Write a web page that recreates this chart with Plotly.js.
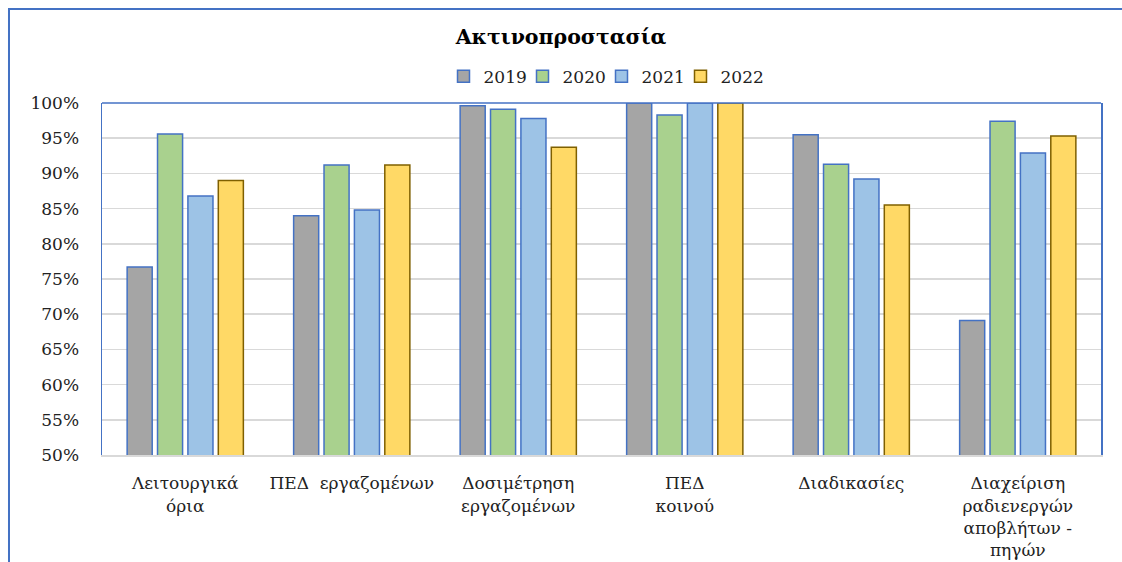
<!DOCTYPE html>
<html>
<head>
<meta charset="utf-8">
<script src="https://cdn.plot.ly/plotly-3.0.1.min.js"></script>
<style>
html,body{margin:0;padding:0;background:#fff;}
#chart{width:1122px;height:562px;}
#chart .legend .scrollbox, #chart .legend [clip-path]{clip-path:none !important;}
</style>
</head>
<body>
<div id="chart"></div>
<script>
const categories = [
  "Λειτουργικά<br>όρια",
  "ΠΕΔ\u00a0\u00a0εργαζομένων",
  "Δοσιμέτρηση<br>εργαζομένων",
  "ΠΕΔ<br>κοινού",
  "Διαδικασίες",
  "Διαχείριση<br>ραδιενεργών<br>αποβλήτων -<br>πηγών"
];
const seriesNames = ["2019", "2020", "2021", "2022"];
const v2019 = [0.767, 0.840, 0.996, 1.000, 0.955, 0.691];
const v2020 = [0.956, 0.912, 0.991, 0.983, 0.913, 0.974];
const v2021 = [0.868, 0.848, 0.978, 1.000, 0.892, 0.929];
const v2022 = [0.890, 0.912, 0.937, 1.000, 0.855, 0.953];
const yTickVals = [0.5,0.55,0.6,0.65,0.7,0.75,0.8,0.85,0.9,0.95,1.0];
const yTickText = ["50%","55%","60%","65%","70%","75%","80%","85%","90%","95%","100%"];

const fills = ["#A5A5A5", "#A9D18E", "#9DC3E6", "#FFD966"];
const outlines = ["#4472C4", "#4472C4", "#4472C4", "#7F6000"];
const values = [v2019, v2020, v2021, v2022];

const serif = "DejaVu Serif, Liberation Serif, serif";
const traces = values.map((v, i) => ({
  type: "bar",
  name: seriesNames[i],
  x: categories,
  y: v,
  marker: {color: fills[i], line: {color: outlines[i], width: 1.5}},
  hoverinfo: "x+y"
}));

const layout = {
  width: 1122, height: 562,
  margin: {l: 102, r: 21, t: 103, b: 107},
  paper_bgcolor: "#fff", plot_bgcolor: "#fff",
  barmode: "group", bargap: 0.27, bargroupgap: 0.175,
  title: {text: "<b>Ακτινοπροστασία</b>", font: {family: serif, size: 20.5, color: "#000"},
          x: 0.5, xanchor: "center", y: 0.935, yanchor: "middle"},
  showlegend: true,
  legend: {orientation: "h", x: 0.5, xanchor: "center", y: 1.075, yanchor: "middle",
           font: {family: serif, size: 17, color: "#222"}, itemwidth: 30, tracegroupgap: 0,
           entrywidth: 34, entrywidthmode: "pixels"},
  xaxis: {type: "category", showgrid: false, showline: true, linecolor: "#D9D9D9", linewidth: 2,
          ticks: "outside", ticklen: 12, tickcolor: "rgba(0,0,0,0)",
          tickfont: {family: serif, size: 17, color: "#222"}, tickangle: 0},
  yaxis: {range: [0.5, 1.0], tickvals: yTickVals, ticktext: yTickText,
          showgrid: true, gridcolor: "#D9D9D9", gridwidth: 1.5,
          showline: true, mirror: true, linecolor: "#4472C4", linewidth: 1.5,
          ticks: "outside", ticklen: 18, tickcolor: "rgba(0,0,0,0)",
          tickfont: {family: serif, size: 17, color: "#222"}, zeroline: false},
  shapes: [
    {type: "line", xref: "paper", yref: "paper", x0: 0, x1: 1, y0: 1, y1: 1,
     line: {color: "#4472C4", width: 1.5}},
    {type: "rect", xref: "paper", yref: "paper", x0: -0.0931, x1: 1.1, y0: -0.4, y1: 1.267,
     line: {color: "#4472C4", width: 2}, layer: "above"}
  ]
};

Plotly.newPlot("chart", traces, layout, {displayModeBar: false, staticPlot: true});
</script>
</body>
</html>
